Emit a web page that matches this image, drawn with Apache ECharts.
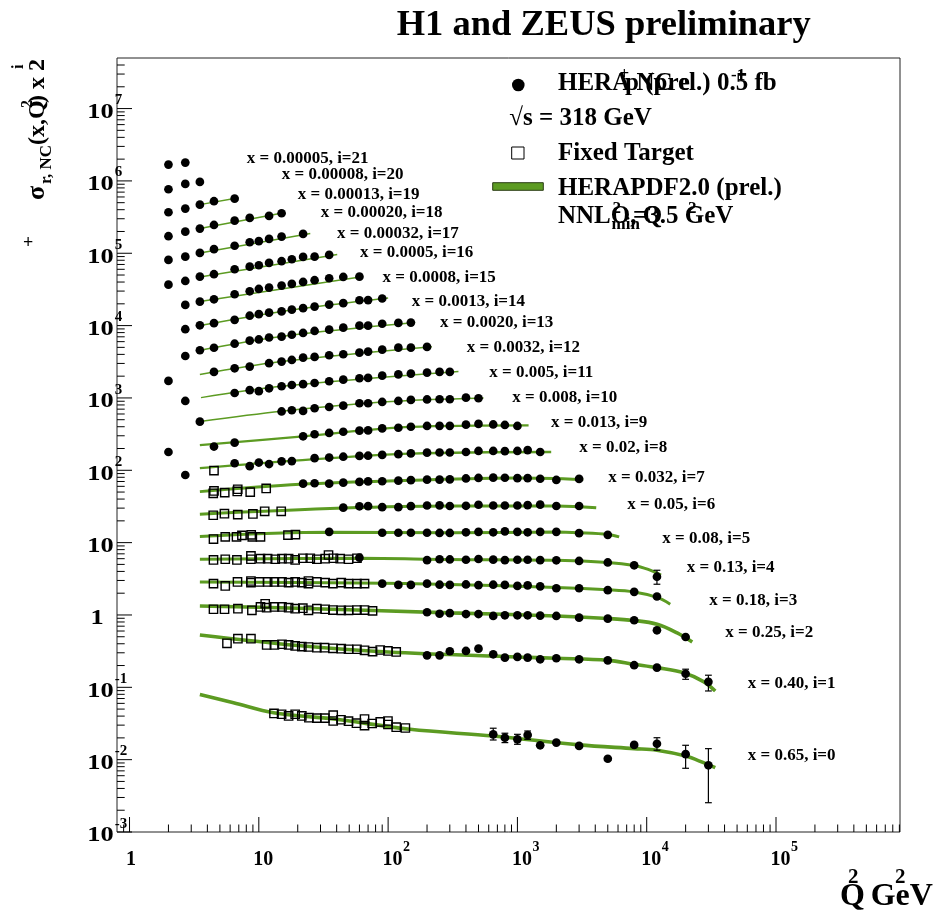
<!DOCTYPE html>
<html>
<head>
<meta charset="utf-8">
<script src="https://cdn.jsdelivr.net/npm/echarts@6/dist/echarts.min.js"></script>
<style>
  html, body { margin: 0; padding: 0; background: #fff; }
  #chart { width: 937px; height: 911px; }
</style>
</head>
<body>
<div id="chart"></div>
<script>
// Reduced NC e+p cross sections, scaled by 2^i, versus Q^2 for fixed x bins.
// Values below are the plotted quantity sigma_r * 2^i.

// ---- HERA combined points: [Q2, sigma_r * 2^i] ----
const hera21 = [[2, 1.68e6], [2.7, 1.79e6]];
const hera20 = [[2, 7.67e5], [2.7, 9.08e5], [3.5, 9.68e5]];
const hera19 = [[2, 3.69e5], [2.7, 4.14e5], [3.5, 4.70e5], [4.5, 5.24e5], [6.5, 5.69e5]];
const hera18 = [[2, 1.72e5], [2.7, 1.99e5], [3.5, 2.19e5], [4.5, 2.46e5], [6.5, 2.82e5], [8.5, 3.08e5], [12, 3.28e5], [15, 3.57e5]];
const hera17 = [[2, 8.09e4], [2.7, 8.98e4], [3.5, 1.01e5], [4.5, 1.14e5], [6.5, 1.27e5], [8.5, 1.42e5], [10, 1.47e5], [12, 1.58e5], [15, 1.70e5], [22, 1.85e5]];
const hera16 = [[2, 3.68e4], [2.7, 4.14e4], [3.5, 4.75e4], [4.5, 5.13e4], [6.5, 6.01e4], [8.5, 6.53e4], [10, 6.83e4], [12, 7.35e4], [15, 7.76e4], [18, 8.26e4], [22, 8.89e4], [27, 8.98e4], [35, 9.48e4]];
const hera15 = [[2.7, 1.93e4], [3.5, 2.14e4], [4.5, 2.31e4], [6.5, 2.71e4], [8.5, 2.98e4], [10, 3.21e4], [12, 3.35e4], [15, 3.57e4], [18, 3.77e4], [22, 4.01e4], [27, 4.24e4], [35, 4.51e4], [45, 4.70e4], [60, 4.75e4]];
const hera14 = [[2.7, 8.91e3], [3.5, 1.01e4], [4.5, 1.08e4], [6.5, 1.20e4], [8.5, 1.37e4], [10, 1.44e4], [12, 1.51e4], [15, 1.57e4], [18, 1.66e4], [22, 1.74e4], [27, 1.83e4], [35, 1.95e4], [45, 2.04e4], [60, 2.24e4], [70, 2.25e4], [90, 2.37e4]];
const hera13 = [[2.7, 3.80e3], [3.5, 4.56e3], [4.5, 4.94e3], [6.5, 5.62e3], [8.5, 6.19e3], [10, 6.43e3], [12, 6.85e3], [15, 7.03e3], [18, 7.47e3], [22, 7.91e3], [27, 8.43e3], [35, 8.79e3], [45, 9.37e3], [60, 9.98e3], [70, 9.98e3], [90, 1.06e4], [120, 1.09e4], [150, 1.10e4]];
const hera12 = [[2, 1.72e3], [4.5, 2.29e3], [6.5, 2.57e3], [8.5, 2.71e3], [12, 3.02e3], [15, 3.18e3], [18, 3.35e3], [22, 3.61e3], [27, 3.69e3], [35, 3.89e3], [45, 4.02e3], [60, 4.23e3], [70, 4.37e3], [90, 4.65e3], [120, 4.96e3], [150, 4.96e3], [200, 5.07e3]];
const hera11 = [[2.7, 908], [6.5, 1.17e3], [8.5, 1.28e3], [10, 1.24e3], [12, 1.36e3], [15, 1.45e3], [18, 1.51e3], [22, 1.55e3], [27, 1.61e3], [35, 1.70e3], [45, 1.79e3], [60, 1.87e3], [70, 1.89e3], [90, 2.03e3], [120, 2.12e3], [150, 2.17e3], [200, 2.24e3], [250, 2.29e3], [300, 2.29e3]];
const hera10 = [[3.5, 470], [15, 650], [18, 676], [22, 661], [27, 720], [35, 750], [45, 782], [60, 845], [70, 845], [90, 880], [120, 908], [150, 938], [200, 953], [250, 959], [300, 959], [400, 1010], [500, 990]];
const hera9 = [[2, 179], [4.5, 213], [6.5, 241], [22, 295], [27, 315], [35, 328], [45, 341], [60, 353], [70, 356], [90, 379], [120, 387], [150, 400], [200, 410], [250, 412], [300, 412], [400, 427], [500, 437], [650, 430], [800, 423], [1000, 410]];
const hera8 = [[2.7, 86.1], [6.5, 125], [8.5, 114], [10, 128], [12, 122], [15, 133], [18, 134], [27, 147], [35, 150], [45, 154], [60, 158], [70, 159], [90, 163], [120, 167], [150, 171], [200, 175], [250, 176], [300, 176], [400, 179], [500, 185], [650, 185], [800, 184], [1000, 185], [1200, 190], [1500, 179]];
const hera7 = [[22, 65.3], [27, 66.2], [35, 65.3], [45, 67.5], [60, 69.0], [70, 70.1], [90, 70.5], [120, 71.9], [150, 73.0], [200, 74.2], [250, 74.2], [300, 74.7], [400, 77.1], [500, 78.3], [650, 79.1], [800, 78.9], [1000, 77.8], [1200, 77.8], [1500, 76.4], [2000, 73.5], [3000, 75.9]];
const hera6 = [[45, 30.4], [60, 31.8], [70, 31.9], [90, 30.9], [120, 30.9], [150, 31.9], [200, 32.6], [250, 32.8], [300, 32.1], [400, 32.3], [500, 33.4], [650, 32.6], [800, 32.6], [1000, 32.6], [1200, 33.0], [1500, 33.5], [2000, 32.1], [3000, 32.1]];
const hera5 = [[35, 14.1], [90, 13.7], [120, 13.7], [150, 13.7], [200, 13.7], [250, 13.6], [300, 13.6], [400, 13.9], [500, 14.1], [650, 13.9], [800, 14.3], [1000, 14.1], [1200, 13.9], [1500, 14.1], [2000, 14.1], [3000, 13.5], [5000, 12.8]];
const hera4 = [[60, 6.20], [200, 5.72], [250, 5.89], [300, 5.85], [400, 5.80], [500, 5.94], [650, 5.81], [800, 5.72], [1000, 5.80], [1200, 5.80], [1500, 5.72], [2000, 5.70], [3000, 5.58], [5000, 5.32], [8000, 4.86], [12000, 3.38]];
const hera3 = [[90, 2.71], [120, 2.60], [150, 2.60], [200, 2.71], [250, 2.62], [300, 2.60], [400, 2.64], [500, 2.58], [650, 2.62], [800, 2.60], [1000, 2.52], [1200, 2.57], [1500, 2.49], [2000, 2.34], [3000, 2.34], [5000, 2.20], [8000, 2.09], [12000, 1.80]];
const hera2 = [[200, 1.09], [250, 1.04], [300, 1.06], [400, 1.03], [500, 1.03], [650, 0.969], [800, 0.99], [1000, 0.99], [1200, 0.99], [1500, 0.98], [2000, 0.969], [3000, 0.918], [5000, 0.889], [8000, 0.845], [12000, 0.614], [20000, 0.496]];
const hera1 = [[200, 0.277], [250, 0.277], [300, 0.315], [400, 0.318], [500, 0.342], [650, 0.286], [800, 0.257], [1000, 0.263], [1200, 0.257], [1500, 0.244], [2000, 0.252], [3000, 0.244], [5000, 0.236], [8000, 0.202], [12000, 0.187], [20000, 0.154], [30000, 0.119]];
const hera0 = [[650, 0.0224], [800, 0.0201], [1000, 0.0191], [1200, 0.0219], [1500, 0.0158], [2000, 0.0172], [3000, 0.0155], [5000, 0.0103], [8000, 0.0160], [12000, 0.0166], [20000, 0.0119], [30000, 0.00836]];

// Total uncertainties where they stick out of the marker: [Q2, low, high]
const heraErrors = [
  [12000, 2.66, 4.15],
  [20000, 0.129, 0.178], [30000, 0.089, 0.147],
  [650, 0.0187, 0.0272], [800, 0.0172, 0.0232], [1000, 0.0163, 0.0224], [1200, 0.0191, 0.0249],
  [5000, 0.0098, 0.0108], [12000, 0.0135, 0.0201], [20000, 0.0076, 0.0158], [30000, 0.00254, 0.0142]
];

// ---- Fixed-target points: [Q2, sigma_r * 2^i] ----
const ft8 = [[4.50, 99.1]];
const ft7 = [[4.44, 48.1], [4.50, 51.8], [5.45, 49.1], [6.81, 51.0], [6.87, 54.7], [8.58, 49.9], [11.4, 56.1]];
const ft6 = [[4.44, 23.9], [5.42, 25.1], [6.87, 24.4], [9.00, 24.9], [11.1, 27.1], [14.9, 27.1]];
const ft5 = [[4.46, 11.2], [5.50, 12.0], [6.72, 12.0], [7.40, 12.6], [8.73, 12.8], [8.90, 12.0], [10.3, 12.0], [16.8, 12.7], [19.2, 12.9]];
const ft4 = [[4.46, 5.76], [5.50, 5.89], [6.77, 5.76], [8.69, 6.54], [8.69, 5.89], [10.3, 6.00], [11.7, 6.00], [13.4, 5.89], [15.1, 6.00], [17.0, 6.00], [19.1, 5.76], [21.9, 6.08], [25.0, 6.08], [28.1, 5.89], [32.6, 6.00], [34.6, 6.75], [37.8, 6.08], [42.6, 6.00], [49.4, 5.89], [57.4, 6.08]];
const ft3 = [[4.46, 2.71], [5.50, 2.52], [6.84, 2.86], [8.69, 2.95], [8.69, 2.80], [10.1, 2.86], [11.7, 2.86], [13.2, 2.86], [15.1, 2.86], [17.0, 2.80], [19.1, 2.86], [21.5, 2.80], [24.2, 2.71], [24.2, 2.95], [28.1, 2.86], [32.6, 2.80], [37.4, 2.71], [43.4, 2.80], [49.4, 2.71], [57.4, 2.71], [65.7, 2.71]];
const ft2 = [[4.46, 1.20], [5.43, 1.20], [6.89, 1.22], [8.84, 1.16], [10.3, 1.29], [11.2, 1.43], [11.5, 1.26], [13.2, 1.29], [15.1, 1.29], [17.0, 1.26], [19.1, 1.22], [21.9, 1.24], [24.2, 1.16], [28.1, 1.22], [32.6, 1.20], [37.4, 1.17], [43.4, 1.16], [49.4, 1.16], [57.4, 1.17], [65.7, 1.17], [75.8, 1.14]];
const ft1 = [[5.67, 0.406], [6.89, 0.470], [8.69, 0.470], [11.5, 0.385], [13.2, 0.385], [15.1, 0.394], [17.0, 0.385], [19.1, 0.373], [21.5, 0.365], [24.2, 0.361], [28.1, 0.353], [32.2, 0.353], [37.4, 0.346], [43.4, 0.342], [49.4, 0.336], [57.4, 0.336], [65.7, 0.325], [75.8, 0.311], [86.9, 0.328], [99.7, 0.318], [115.5, 0.308]];
const ft0 = [[13.1, 0.0435], [15.0, 0.0424], [17.0, 0.0402], [19.1, 0.0424], [21.5, 0.0402], [24.4, 0.0380], [28.1, 0.0375], [32.4, 0.0375], [37.6, 0.0412], [37.6, 0.0342], [43.2, 0.0356], [49.4, 0.0340], [56.9, 0.0319], [65.7, 0.0365], [65.7, 0.0295], [75.3, 0.0316], [86.9, 0.0332], [99.7, 0.0342], [99.7, 0.0306], [115.5, 0.0281], [136, 0.0274]];

// ---- HERAPDF2.0 NNLO predictions: [Q2, sigma_r * 2^i] ----
const fit19 = [[3.5, 4.70e5], [6.97, 5.87e5]];
const fit18 = [[3.5, 2.20e5], [16.0, 3.67e5]];
const fit17 = [[3.5, 1.01e5], [25.0, 1.88e5]];
const fit16 = [[3.5, 4.70e4], [40.4, 9.63e4]];
const fit15 = [[3.5, 2.16e4], [64.2, 4.78e4]];
const fit14 = [[3.5, 1.00e4], [15, 1.57e4], [100, 2.41e4]];
const fit13 = [[3.5, 4.56e3], [15, 7.08e3], [162, 1.10e4]];
const fit12 = [[3.5, 2.11e3], [15, 3.19e3], [218, 5.10e3]];
const fit11 = [[3.57, 1.01e3], [15, 1.45e3], [350, 2.32e3]];
const fit10 = [[3.5, 473], [15, 655], [90, 880], [547, 1000]];
const fit9 = [[3.5, 222], [22, 294], [150, 397], [1220, 417]];
const fit8 = [[3.5, 107], [15, 132], [150, 170], [1825, 179]];
const fit7 = [[3.5, 50.7], [20.9, 64.1], [150, 72.8], [1000, 78.3], [3230, 74.7]];
const fit6 = [[3.5, 24.7], [45, 30.1], [300, 32.1], [2000, 32.1], [4070, 30.4]];
const fit5 = [[3.5, 12.2], [35, 13.9], [300, 13.7], [2000, 14.0], [3000, 13.7], [5000, 13.0], [6120, 12.0]];
const fit4 = [[3.5, 5.89], [60, 6.08], [300, 5.85], [2000, 5.70], [5000, 5.32], [8000, 4.83], [10270, 4.26], [12900, 3.57]];
const fit3 = [[3.5, 2.86], [60, 2.77], [300, 2.64], [2000, 2.40], [5000, 2.23], [8000, 2.08], [12050, 1.75], [15200, 1.41]];
const fit2 = [[3.5, 1.33], [20, 1.24], [300, 1.07], [2000, 0.969], [5000, 0.895], [8000, 0.839], [12050, 0.744], [17200, 0.564], [22500, 0.423]];
const fit1 = [[3.5, 0.529], [20, 0.379], [100, 0.308], [1000, 0.263], [2000, 0.252], [5000, 0.236], [8000, 0.208], [12000, 0.187], [19300, 0.159], [27500, 0.120], [33900, 0.089]];
const fit0 = [[3.5, 0.0796], [6.37, 0.0613], [13.0, 0.0446], [37.9, 0.0364], [148, 0.0263], [650, 0.0212], [3000, 0.0160], [8000, 0.0142], [12000, 0.0135], [20000, 0.0112], [27500, 0.00908], [33900, 0.00775]];

// ---- x-bin annotations ----
const binX = ['0.00005', '0.00008', '0.00013', '0.00020', '0.00032', '0.0005', '0.0008', '0.0013', '0.0020', '0.0032', '0.005', '0.008', '0.013', '0.02', '0.032', '0.05', '0.08', '0.13', '0.18', '0.25', '0.40', '0.65'];
const binI = [21, 20, 19, 18, 17, 16, 15, 14, 13, 12, 11, 10, 9, 8, 7, 6, 5, 4, 3, 2, 1, 0];

// ---- axis ticks and labels ----
const xMajor = [1, 10, 100, 1000, 10000, 100000];
const xMajorText = [['1', ''], ['10', ''], ['10', '2'], ['10', '3'], ['10', '4'], ['10', '5']];
const yMajor = [1e-3, 1e-2, 1e-1, 1, 10, 100, 1e3, 1e4, 1e5, 1e6, 1e7];
const yMajorText = [['10', '-3'], ['10', '-2'], ['10', '-1'], ['1', ''], ['10', ''], ['10', '2'], ['10', '3'], ['10', '4'], ['10', '5'], ['10', '6'], ['10', '7']];

// ================= drawing =================
const X_MIN = 0.8, X_MAX = 9.1e5, Y_MIN = 1e-3, Y_MAX = 5e7;
const SERIF = '"Liberation Serif", "Times New Roman", Times, serif';
const GREEN = '#5c9b22';

const heraRows = [hera21, hera20, hera19, hera18, hera17, hera16, hera15, hera14, hera13, hera12, hera11, hera10, hera9, hera8, hera7, hera6, hera5, hera4, hera3, hera2, hera1, hera0];
const ftRows = [ft8, ft7, ft6, ft5, ft4, ft3, ft2, ft1, ft0];
const fitRows = [[19, fit19], [18, fit18], [17, fit17], [16, fit16], [15, fit15], [14, fit14], [13, fit13], [12, fit12], [11, fit11], [10, fit10], [9, fit9], [8, fit8], [7, fit7], [6, fit6], [5, fit5], [4, fit4], [3, fit3], [2, fit2], [1, fit1], [0, fit0]];

// text placed by its baseline
function txt(x, baseline, str, size, align, scaleX) {
  const el = {
    type: 'text', x: x, y: baseline - 0.22 * size, silent: true,
    style: { text: str, fontFamily: SERIF, fontWeight: 'bold', fontSize: size, fill: '#000', align: align || 'left', verticalAlign: 'middle' }
  };
  if (scaleX) el.scaleX = scaleX;
  return el;
}

function minorTicks(lo, hi) {
  const out = [];
  for (let e = -4; e <= 8; e++) {
    for (let m = 2; m <= 9; m++) {
      const v = m * Math.pow(10, e);
      if (v > lo * 1.0001 && v < hi * 0.9999) out.push(v);
    }
  }
  return out;
}

const fitWidth = i => (i >= 10 ? 1.5 : i >= 8 ? 2.3 : i >= 3 ? 3 : 3.6);

const series = [];

fitRows.forEach(([i, d]) => {
  series.push({
    type: 'line', data: d, smooth: 0.35, symbol: 'none', silent: true, z: 2,
    lineStyle: { color: GREEN, width: fitWidth(i), cap: 'butt' }
  });
});

series.push({
  type: 'scatter', name: 'Fixed Target', data: [].concat(...ftRows), symbol: 'rect', symbolSize: 8.3, z: 3, silent: true,
  itemStyle: { color: 'rgba(255,255,255,0)', borderColor: '#000', borderWidth: 1.4, opacity: 1 }
});

series.push({
  type: 'scatter', name: 'HERA', data: [].concat(...heraRows), symbol: 'circle', symbolSize: 8.7, z: 4, silent: true,
  itemStyle: { color: '#000', opacity: 1 }
});

series.push({
  type: 'custom', data: heraErrors, z: 5, silent: true, clip: false,
  encode: { x: 0, y: [1, 2] },
  renderItem: function (params, api) {
    const q = api.value(0);
    const a = api.coord([q, api.value(1)]);
    const b = api.coord([q, api.value(2)]);
    const w = 3.4, st = { stroke: '#000', lineWidth: 1.2 };
    return {
      type: 'group', children: [
        { type: 'line', shape: { x1: a[0], y1: a[1], x2: b[0], y2: b[1] }, style: st },
        { type: 'line', shape: { x1: a[0] - w, y1: a[1], x2: a[0] + w, y2: a[1] }, style: st },
        { type: 'line', shape: { x1: b[0] - w, y1: b[1], x2: b[0] + w, y2: b[1] }, style: st }
      ]
    };
  }
});

// tick marks drawn inside the frame
const xTickData = xMajor.map(v => [v, Y_MIN, 15]).concat(minorTicks(X_MIN, X_MAX).map(v => [v, Y_MIN, 7.5]));
const yTickData = yMajor.map(v => [X_MIN, v, 15]).concat(minorTicks(Y_MIN, Y_MAX).map(v => [X_MIN, v, 7.7]));

series.push({
  type: 'custom', data: xTickData, silent: true, clip: false, z: 6,
  encode: { x: 0, y: 1 },
  renderItem: function (params, api) {
    const p = api.coord([api.value(0), api.value(1)]);
    return { type: 'line', shape: { x1: p[0], y1: p[1], x2: p[0], y2: p[1] - api.value(2) }, style: { stroke: '#000', lineWidth: 1 } };
  }
});
series.push({
  type: 'custom', data: yTickData, silent: true, clip: false, z: 6,
  encode: { x: 0, y: 1 },
  renderItem: function (params, api) {
    const p = api.coord([api.value(0), api.value(1)]);
    return { type: 'line', shape: { x1: p[0], y1: p[1], x2: p[0] + api.value(2), y2: p[1] }, style: { stroke: '#000', lineWidth: 1 } };
  }
});

// axis labels: "10" with a raised exponent
series.push({
  type: 'custom', data: xMajor.map(v => [v, Y_MIN]), silent: true, clip: false, z: 6,
  encode: { x: 0, y: 1 },
  renderItem: function (params, api) {
    const p = api.coord([api.value(0), api.value(1)]);
    const t = xMajorText[params.dataIndex];
    const size = 20, left = p[0] - (t[0].length === 1 ? 3.5 : 5.5);
    const kids = [txt(left, p[1] + 32.6, t[0], size)];
    if (t[1]) kids.push(txt(left + t[0].length * size * 0.5 + 0.5, p[1] + 18.3, t[1], 14));
    return { type: 'group', children: kids };
  }
});
series.push({
  type: 'custom', data: yMajor.map(v => [X_MIN, v]), silent: true, clip: false, z: 6,
  encode: { x: 0, y: 1 },
  renderItem: function (params, api) {
    const p = api.coord([api.value(0), api.value(1)]);
    const t = yMajorText[params.dataIndex];
    const kids = t[0] === '1'
      ? [txt(p[0] - 20, p[1] + 8.4, t[0], 22, 'center', 1.2)]
      : [txt(p[0] - 3.4, p[1] + 8.4, t[0], 22, 'right', 1.2)];
    if (t[1]) kids.push(txt(p[0] - 2.2, p[1] - 5, t[1], 15));
    return { type: 'group', children: kids };
  }
});

// ---- free text: title, bin labels, legend, axis titles ----
const binPos = [[246.7, 162.7], [281.7, 178.7], [297.7, 198.5], [320.7, 216], [337, 237.3], [360, 256], [382.5, 281], [411.7, 305], [440, 326], [466.7, 351.7], [489.3, 376.7], [512.3, 401.7], [551, 426.7], [579.3, 451.7], [608.3, 481], [627.3, 508.3], [662.3, 542.3], [686.7, 571], [709.3, 604], [725.3, 636.7], [747.7, 687.3], [747.7, 759]];

const graphics = [];
graphics.push(txt(396.7, 33.3, 'H1 and ZEUS preliminary', 36.5));

binX.forEach((x, k) => {
  graphics.push(txt(binPos[k][0], binPos[k][1], 'x = ' + x + ', i=' + binI[k], 17));
});

// legend
graphics.push({ type: 'circle', silent: true, shape: { cx: 518.3, cy: 85, r: 6.3 }, style: { fill: '#000' } });
graphics.push(txt(558, 89.5, 'HERA NC e', 25));
graphics.push(txt(619.5, 78, '+', 17));
graphics.push(txt(625, 89.5, 'p (prel.) 0.5 fb', 25));
graphics.push(txt(731, 79.3, '-1', 17));
graphics.push(txt(509.3, 123.7, '\u221As = 318 GeV', 25));
graphics.push({ type: 'rect', silent: true, shape: { x: 511.7, y: 147, width: 12.3, height: 12 }, style: { fill: 'none', stroke: '#000', lineWidth: 1 } });
graphics.push(txt(558, 158.7, 'Fixed Target', 25));
graphics.push({ type: 'rect', silent: true, shape: { x: 492.7, y: 182.7, width: 50.6, height: 7.6 }, style: { fill: GREEN, stroke: '#2b3d14', lineWidth: 1 } });
graphics.push(txt(558, 193.7, 'HERAPDF2.0 (prel.)', 25));
graphics.push(txt(558, 222, 'NNLO, Q', 25));
graphics.push(txt(612.5, 212, '2', 17));
graphics.push(txt(611.5, 228.7, 'min', 17));
graphics.push(txt(633, 222, '=3.5 GeV', 25));
graphics.push(txt(688, 212, '2', 17));

// x-axis title
graphics.push(txt(840, 903.3, 'Q', 32));
graphics.push(txt(848, 882, '2', 21));
graphics.push(txt(870.7, 903.3, 'GeV', 32));
graphics.push(txt(895, 882, '2', 21));

// y-axis title, reading upwards
graphics.push({
  type: 'group', x: 43.5, y: 200, rotation: Math.PI / 2, silent: true,
  children: [
    txt(0, 0, '\u03C3', 26),
    txt(16, 6.5, 'r, NC', 17),
    txt(55, 0, '(x,Q', 24),
    txt(92, -12, '2', 16),
    txt(97, 0, ') x 2', 24),
    txt(131, -21, 'i', 16)
  ]
});
graphics.push(txt(23, 247, '+', 18));

const chart = echarts.init(document.getElementById('chart'), null, { renderer: 'canvas' });
chart.setOption({
  animation: false,
  backgroundColor: '#fff',
  grid: { left: 117, right: 37, top: 58, bottom: 79, show: true, borderColor: '#222', borderWidth: 1, backgroundColor: 'rgba(0,0,0,0)' },
  xAxis: {
    type: 'log', logBase: 10, min: X_MIN, max: X_MAX,
    axisLine: { show: false }, axisTick: { show: false }, axisLabel: { show: false },
    splitLine: { show: false }, minorTick: { show: false }, minorSplitLine: { show: false }
  },
  yAxis: {
    type: 'log', logBase: 10, min: Y_MIN, max: Y_MAX,
    axisLine: { show: false }, axisTick: { show: false }, axisLabel: { show: false },
    splitLine: { show: false }, minorTick: { show: false }, minorSplitLine: { show: false }
  },
  tooltip: { show: false },
  series: series,
  graphic: { elements: graphics }
});
</script>
</body>
</html>
